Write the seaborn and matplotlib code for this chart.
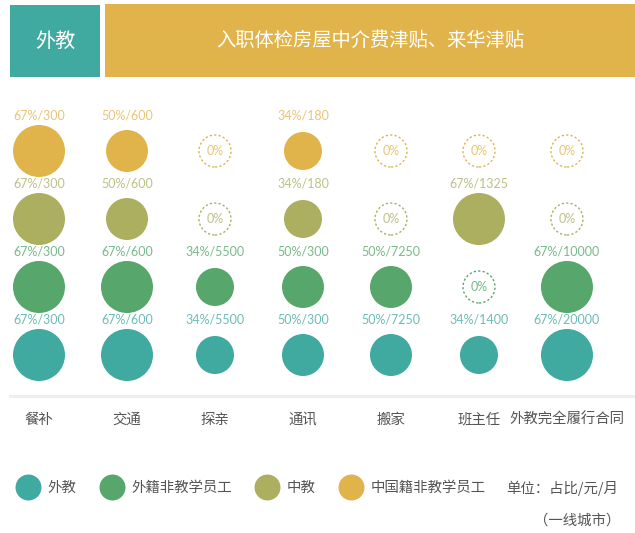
import numpy as np
import pandas as pd
import matplotlib.pyplot as plt
import seaborn as sns
from matplotlib.lines import Line2D

cats = ['餐补', '交通', '探亲', '通讯', '搬家', '班主任', '外教完全履行合同']
groups = ['外教', '外籍非教学员工', '中教', '中国籍非教学员工']
colors = ['#40A9A0', '#57A66B', '#ABAF5F', '#E0B44A']
label_colors = ['#6CBCB5', '#78B98A', '#BDC187', '#E8C678']

# percent / amount per category, one list per group
pct_waijiao = [67, 67, 34, 50, 50, 34, 67]
amt_waijiao = ['300', '600', '5500', '300', '7250', '1400', '20000']
pct_waiji = [67, 67, 34, 50, 50, 0, 67]
amt_waiji = ['300', '600', '5500', '300', '7250', '', '10000']
pct_zhongjiao = [67, 50, 0, 34, 0, 67, 0]
amt_zhongjiao = ['300', '600', '', '180', '', '1325', '']
pct_zhongguo = [67, 50, 0, 34, 0, 0, 0]
amt_zhongguo = ['300', '600', '', '180', '', '', '']

pcts = [pct_waijiao, pct_waiji, pct_zhongjiao, pct_zhongguo]
amts = [amt_waijiao, amt_waiji, amt_zhongjiao, amt_zhongguo]

rows = []
for gi, g in enumerate(groups):
    for ci, c in enumerate(cats):
        rows.append({'cat': c, 'group': g, 'xi': ci, 'yi': gi,
                     'pct': pcts[gi][ci], 'amt': amts[gi][ci]})
df = pd.DataFrame(rows)
filled = df[df.pct > 0]
empty = df[df.pct == 0]

sns.set_theme(style='white')
plt.rcParams['font.family'] = ['Noto Sans CJK SC', 'DejaVu Sans']
num_font = ['Lato', 'DejaVu Sans']

W, H = 635, 533
fig = plt.figure(figsize=(W / 100, H / 100), dpi=100)
fig.patch.set_facecolor('white')

# header boxes
hb1 = fig.add_axes([10 / W, 1 - 77 / H, 90 / W, 72 / H])
hb1.set_facecolor(colors[0])
hb1.text(0.5, 0.5, '外教', color='white', fontsize=14.5, ha='center', va='center')
hb2 = fig.add_axes([105 / W, 1 - 77 / H, 530 / W, 73 / H])
hb2.set_facecolor(colors[3])
hb2.text(0.5, 0.5, '入职体检房屋中介费津贴、来华津贴', color='white', fontsize=13.9,
         ha='center', va='center')
for a in (hb1, hb2):
    a.set_xticks([])
    a.set_yticks([])
    for s in a.spines.values():
        s.set_visible(False)

# main bubble axes
ax = fig.add_axes([10 / W, 1 - 396 / H, 625 / W, 306 / H])
ax.set_facecolor('none')
sns.scatterplot(data=filled, x='xi', y='yi', hue='group', hue_order=groups,
                palette=colors, size='pct', sizes={67: 1402, 50: 914, 34: 749},
                linewidth=0, legend=False, ax=ax, zorder=3)

for gi, g in enumerate(groups):
    sub = empty[empty.group == g]
    ax.scatter(sub.xi, sub.yi, s=531, facecolors='none', edgecolors=colors[gi],
               linewidths=1.0, linestyles=(0, (1.6, 1.6)), zorder=3)
    for _, r in sub.iterrows():
        ax.text(r.xi, r.yi, '0%', ha='center', va='center', fontsize=9,
                color=label_colors[gi], family=num_font)
    for _, r in filled[filled.group == g].iterrows():
        ax.annotate(f'{r.pct}%/{r.amt}', (r.xi, r.yi), xytext=(0, 25.2),
                    textcoords='offset points', ha='center', va='center',
                    fontsize=9, color=label_colors[gi], family=num_font)

ax.set_xlim(-0.3295, 6.773)
ax.set_ylim(-0.603, 3.897)
ax.set_xticks(range(len(cats)), cats)
ax.set_yticks([])
ax.set_xlabel('')
ax.set_ylabel('')
ax.tick_params(axis='x', length=0, pad=12, labelsize=10.4, labelcolor='#555555')
for k in ('top', 'left', 'right'):
    ax.spines[k].set_visible(False)
ax.spines['bottom'].set_color('#EEEEEE')
ax.spines['bottom'].set_linewidth(2.2)

# legend
handles = [Line2D([], [], marker='o', linestyle='', markersize=18.7,
                  markerfacecolor=c, markeredgewidth=0) for c in colors]
fig.legend(handles, groups, loc='center left', bbox_to_anchor=(15 / W, 1 - 488 / H),
           ncol=4, frameon=False, handlelength=1.8, handletextpad=0.45,
           columnspacing=1.55, borderaxespad=0, borderpad=0, fontsize=10.4,
           labelcolor='#555555')
fig.text(506 / W, 1 - 488 / H, '单位：占比/元/月', fontsize=10.4, color='#555555',
         ha='left', va='center')
fig.text(620 / W, 1 - 521 / H, '（一线城市）', fontsize=10.4, color='#555555',
         ha='right', va='center')

fig.savefig('out.png', dpi=100)
